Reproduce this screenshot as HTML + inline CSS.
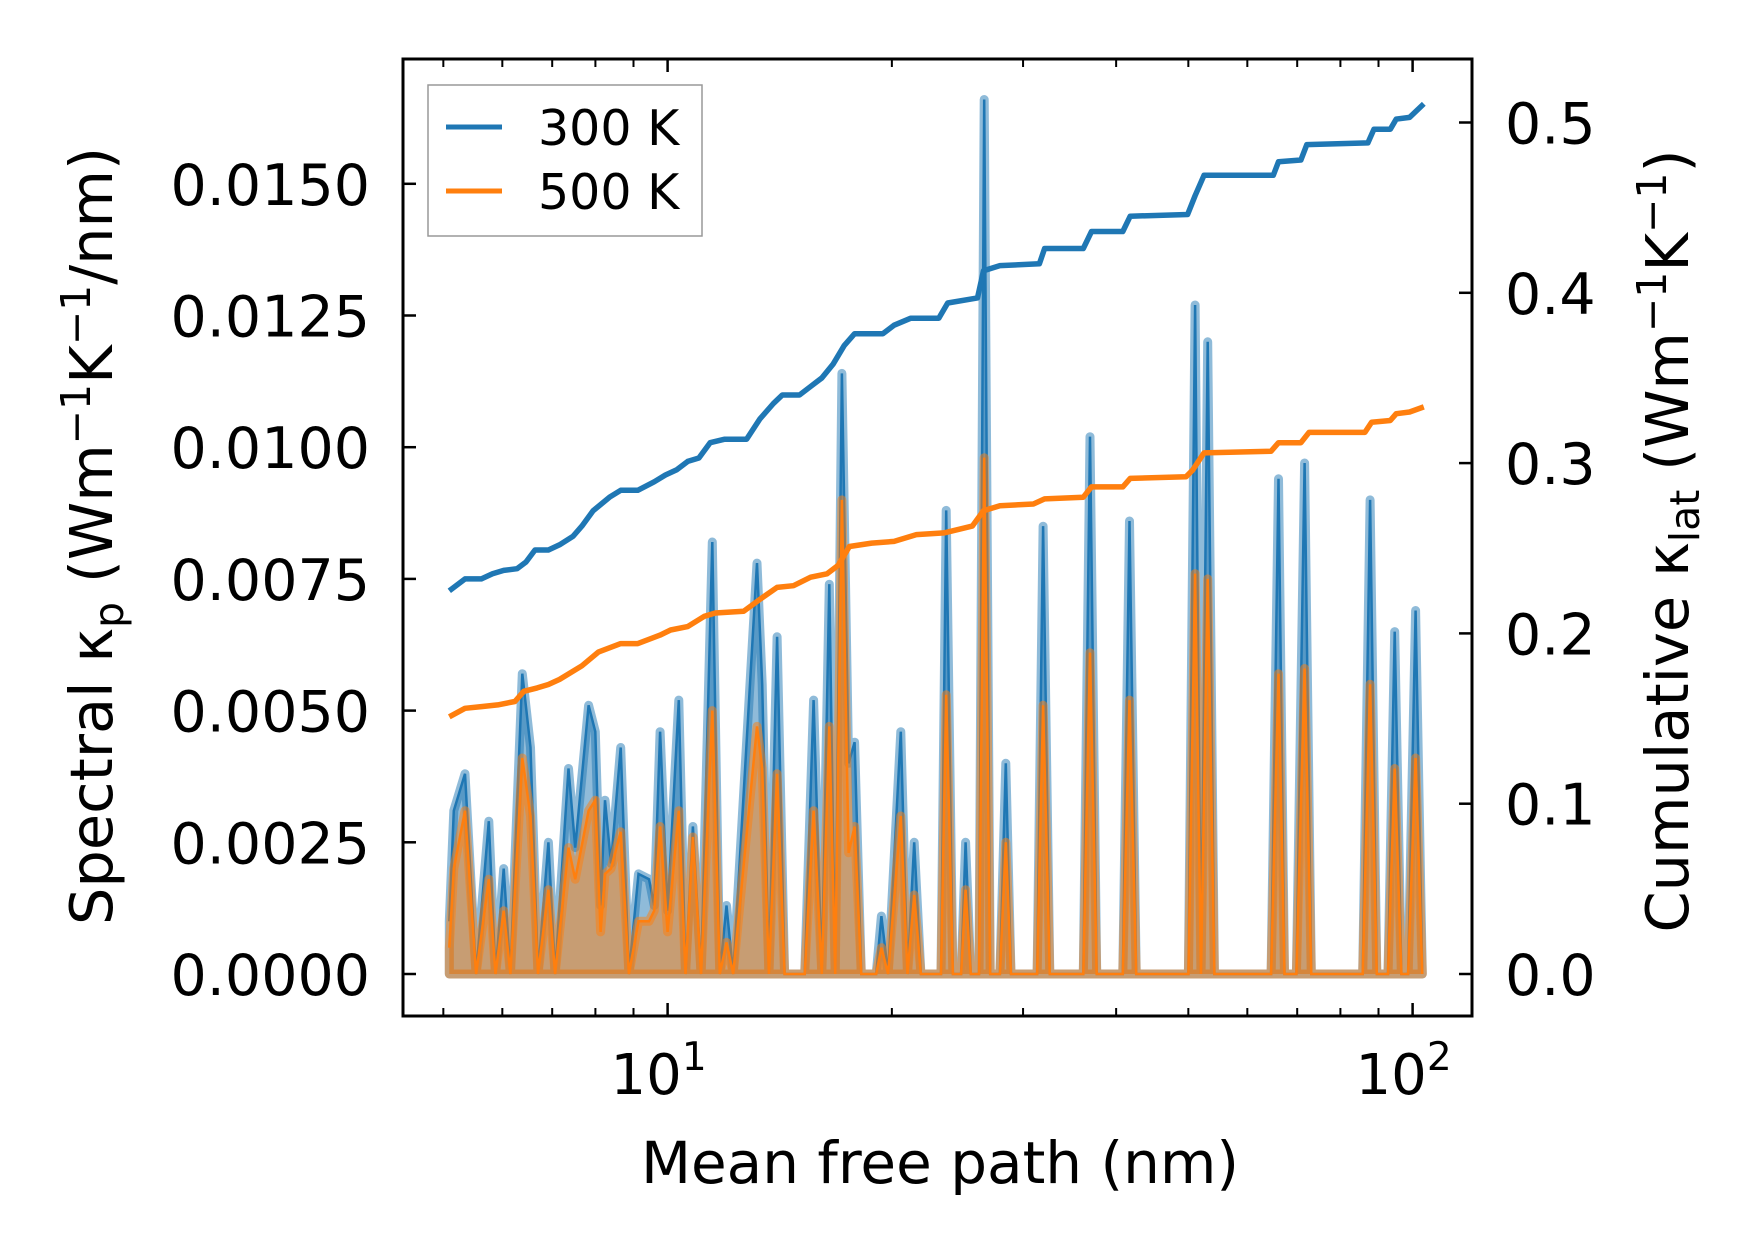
<!DOCTYPE html>
<html><head><meta charset="utf-8"><style>
body{margin:0;background:#fff}
svg text{font-family:"DejaVu Sans","Liberation Sans",sans-serif;fill:#000}
</style></head><body>
<svg id="chart" width="1753" height="1254" viewBox="0 0 1753 1254" xmlns="http://www.w3.org/2000/svg">
<rect width="1753" height="1254" fill="#fff"/>
<g id="marks"></g>
<rect x="403" y="59" width="1069" height="957" fill="none" stroke="#000" stroke-width="3"/>
<g id="ticks"></g>
<text x="940" y="1183" font-size="58" text-anchor="middle">Mean free path (nm)</text>
<text transform="translate(112,536) rotate(-90)" font-size="59" text-anchor="middle">Spectral κ<tspan font-size="41" dy="11">p</tspan><tspan dy="-11"> (Wm</tspan><tspan font-size="41" dy="-22">−1</tspan><tspan dy="22">K</tspan><tspan font-size="41" dy="-22">−1</tspan><tspan dy="22">/nm)</tspan></text>
<text transform="translate(1688,541) rotate(-90)" font-size="59" text-anchor="middle">Cumulative κ<tspan font-size="41" dy="11">lat</tspan><tspan dy="-11"> (Wm</tspan><tspan font-size="41" dy="-22">−1</tspan><tspan dy="22">K</tspan><tspan font-size="41" dy="-22">−1</tspan><tspan dy="22">)</tspan></text>
<g>
<rect x="428" y="85" width="274" height="151" fill="#fff" fill-opacity="0.8" stroke="#999" stroke-width="1.5"/>
<line x1="446" y1="127" x2="502" y2="127" stroke="#1f77b4" stroke-width="5"/>
<text x="538" y="145" font-size="49">300 K</text>
<line x1="446" y1="191" x2="502" y2="191" stroke="#ff7f0e" stroke-width="5"/>
<text x="538" y="209" font-size="49">500 K</text>
</g>
</svg>
<script>
const specLogMfp=[0.707,0.713,0.728,0.743,0.760,0.769,0.780,0.789,0.805,0.816,0.826,0.840,0.849,0.867,0.876,0.894,0.903,0.910,0.916,0.924,0.937,0.948,0.961,0.975,0.982,0.990,1.000,1.015,1.024,1.034,1.045,1.060,1.070,1.079,1.088,1.120,1.127,1.136,1.147,1.157,1.184,1.196,1.207,1.217,1.225,1.234,1.243,1.251,1.260,1.280,1.287,1.296,1.313,1.322,1.331,1.340,1.367,1.374,1.383,1.394,1.400,1.407,1.418,1.425,1.433,1.446,1.454,1.461,1.496,1.504,1.513,1.558,1.567,1.576,1.611,1.620,1.629,1.699,1.708,1.716,1.725,1.734,1.810,1.820,1.828,1.844,1.855,1.864,1.933,1.943,1.952,1.967,1.976,1.985,1.994,2.004,2.013];
const spec300=[0.0010,0.0031,0.0038,0,0.0029,0,0.0020,0,0.0057,0.0043,0,0.0025,0,0.0039,0.0024,0.0051,0.0046,0.0013,0.0033,0.0021,0.0043,0,0.0019,0.0018,0.0013,0.0046,0.0012,0.0052,0,0.0028,0,0.0082,0,0.0013,0,0.0078,0.0055,0,0.0064,0,0,0.0052,0,0.0074,0,0.0114,0.0040,0.0044,0,0,0.0011,0,0.0046,0,0.0025,0,0,0.0088,0,0,0.0025,0,0,0.0166,0,0,0.0040,0,0,0.0085,0,0,0.0102,0,0,0.0086,0,0,0.0127,0,0.0120,0,0,0.0094,0,0,0.0097,0,0,0.0090,0,0,0.0065,0,0,0.0069,0];
const spec500=[0.0005,0.0020,0.0031,0,0.0018,0,0.0012,0,0.0041,0.0030,0,0.0016,0,0.0024,0.0018,0.0031,0.0033,0.0008,0.0019,0.0020,0.0027,0,0.0010,0.0010,0.0012,0.0028,0.0008,0.0031,0,0.0026,0,0.0050,0,0.0006,0,0.0047,0.0039,0,0.0038,0,0,0.0031,0,0.0047,0,0.0090,0.0023,0.0028,0,0,0.0005,0,0.0030,0,0.0015,0,0,0.0053,0,0,0.0016,0,0,0.0098,0,0,0.0025,0,0,0.0051,0,0,0.0061,0,0,0.0052,0,0,0.0076,0,0.0075,0,0,0.0057,0,0,0.0058,0,0,0.0055,0,0,0.0039,0,0,0.0041,0];
const cum300LogMfp=[0.707,0.728,0.750,0.765,0.780,0.798,0.810,0.822,0.840,0.855,0.873,0.885,0.900,0.922,0.937,0.960,0.982,0.997,1.012,1.027,1.042,1.057,1.076,1.106,1.124,1.142,1.154,1.177,1.192,1.207,1.222,1.237,1.251,1.289,1.304,1.326,1.364,1.376,1.416,1.424,1.446,1.499,1.506,1.558,1.569,1.611,1.621,1.698,1.708,1.720,1.813,1.820,1.850,1.858,1.940,1.948,1.970,1.978,1.996,2.015];
const cum300=[0.225,0.232,0.232,0.235,0.237,0.238,0.242,0.249,0.249,0.252,0.257,0.263,0.272,0.280,0.284,0.284,0.289,0.293,0.296,0.301,0.303,0.312,0.314,0.314,0.326,0.335,0.340,0.340,0.345,0.350,0.358,0.369,0.376,0.376,0.381,0.385,0.385,0.394,0.397,0.413,0.416,0.417,0.426,0.426,0.436,0.436,0.445,0.446,0.457,0.469,0.469,0.477,0.478,0.487,0.488,0.496,0.496,0.502,0.503,0.511];
const cum500LogMfp=[0.707,0.728,0.750,0.772,0.795,0.807,0.825,0.840,0.855,0.885,0.907,0.937,0.960,0.990,1.004,1.027,1.049,1.064,1.102,1.124,1.147,1.169,1.192,1.214,1.229,1.244,1.274,1.304,1.334,1.371,1.409,1.424,1.446,1.491,1.506,1.558,1.569,1.611,1.621,1.696,1.705,1.720,1.810,1.820,1.850,1.861,1.936,1.945,1.970,1.978,1.996,2.015];
const cum500=[0.151,0.156,0.157,0.158,0.160,0.166,0.168,0.170,0.173,0.181,0.189,0.194,0.194,0.199,0.202,0.204,0.210,0.212,0.213,0.220,0.227,0.228,0.233,0.235,0.240,0.251,0.253,0.254,0.258,0.259,0.263,0.272,0.275,0.276,0.279,0.280,0.286,0.286,0.291,0.292,0.296,0.306,0.307,0.312,0.312,0.318,0.318,0.324,0.325,0.329,0.330,0.333];
const leftTicks=["0.0000","0.0025","0.0050","0.0075","0.0100","0.0125","0.0150"];
const rightTicks=["0.0","0.1","0.2","0.3","0.4","0.5"];

const NS="http://www.w3.org/2000/svg";
const X=l=>667.6+(l-1)*745;
const YL=v=>974-v/0.0025*131.7;
const YR=v=>974-v/0.1*170.3;
const marks=document.getElementById('marks'), ticks=document.getElementById('ticks');
function mk(tag,attrs,parent){const e=document.createElementNS(NS,tag);for(const k in attrs)e.setAttribute(k,attrs[k]);parent.appendChild(e);return e;}
function spectral(vals,color,name){
  const pts=specLogMfp.map((l,i)=>X(l).toFixed(1)+','+YL(vals[i]).toFixed(1));
  const poly=pts.join(' ')+' '+X(specLogMfp[specLogMfp.length-1]).toFixed(1)+','+YL(0)+' '+X(specLogMfp[0]).toFixed(1)+','+YL(0);
  const f=mk('polygon',{points:poly,fill:color,'fill-opacity':0.5,stroke:color,'stroke-opacity':0.5,'stroke-width':9,'stroke-linejoin':'round'},marks);
  
  
  const p=mk('polyline',{points:pts.join(' '),fill:'none',stroke:color,'stroke-width':2.5},marks);
  
  
}
spectral(spec300,'#1f77b4','spectral-300k');
spectral(spec500,'#ff7f0e','spectral-500k');
function cum(ls,vs,color,name){
  const p=mk('polyline',{points:ls.map((l,i)=>X(l).toFixed(1)+','+YR(vs[i]).toFixed(1)).join(' '),fill:'none',stroke:color,'stroke-width':5.5,'stroke-linejoin':'round'},marks);
  
  
}
cum(cum300LogMfp,cum300,'#1f77b4','cumulative-300k');
cum(cum500LogMfp,cum500,'#ff7f0e','cumulative-500k');
leftTicks.forEach(t=>{const y=YL(parseFloat(t));
  const l=mk('line',{x1:403,y1:y,x2:416,y2:y,stroke:'#000','stroke-width':2.5},ticks);
  
  
  const tx=mk('text',{x:370,y:y+21,'font-size':57,'text-anchor':'end'},ticks);tx.textContent=t;
  
  
});
rightTicks.forEach(t=>{const y=YR(parseFloat(t));
  const l=mk('line',{x1:1459,y1:y,x2:1472,y2:y,stroke:'#000','stroke-width':2.5},ticks);
  
  
  const tx=mk('text',{x:1505,y:y+21,'font-size':57},ticks);tx.textContent=t;
  
  
});
[1,2].forEach(e=>{const x=X(e);
  const a=mk('line',{x1:x,y1:1016,x2:x,y2:1003,stroke:'#000','stroke-width':2.5},ticks);
  
  
  const b=mk('line',{x1:x,y1:59,x2:x,y2:72,stroke:'#000','stroke-width':2.5},ticks);
  
  
  const t=mk('text',{x:x-9,y:1094,'font-size':56,'text-anchor':'middle'},ticks);
  t.innerHTML='10<tspan font-size="39" dy="-24">'+e+'</tspan>';
  
  
});
[5,6,7,8,9,20,30,40,50,60,70,80,90].forEach(v=>{const x=X(Math.log10(v));
  if(x<404||x>1471)return;
  const a=mk('line',{x1:x,y1:1016,x2:x,y2:1008,stroke:'#000','stroke-width':2},ticks);
  
  
  const b=mk('line',{x1:x,y1:59,x2:x,y2:67,stroke:'#000','stroke-width':2},ticks);
  
  
});
</script>
</body></html>
